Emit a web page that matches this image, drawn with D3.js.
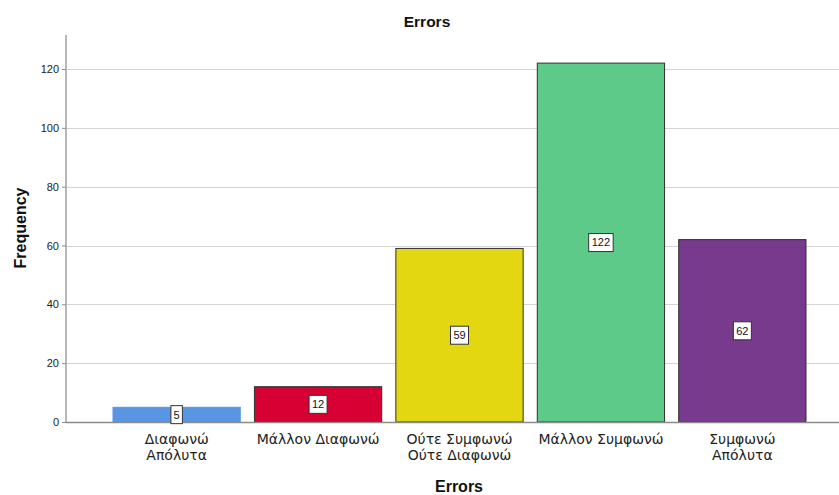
<!DOCTYPE html>
<html>
<head>
<meta charset="utf-8">
<script src="https://cdn.jsdelivr.net/npm/d3@7"></script>
<style>
  html, body { margin: 0; padding: 0; background: #fff; }
  svg { display: block; font-family: "Liberation Sans", Arial, sans-serif; }
</style>
</head>
<body>
<svg id="chart" width="839" height="495"></svg>
<script>
// Response categories (two-line labels) and their counts
const categories = ["Διαφωνώ Απόλυτα", "Μάλλον Διαφωνώ", "Ούτε Συμφωνώ Ούτε Διαφωνώ", "Μάλλον Συμφωνώ", "Συμφωνώ Απόλυτα"];
const categoryLines = [["Διαφωνώ", "Απόλυτα"], ["Μάλλον Διαφωνώ"], ["Ούτε Συμφωνώ", "Ούτε Διαφωνώ"], ["Μάλλον Συμφωνώ"], ["Συμφωνώ", "Απόλυτα"]];
const frequencies = [5, 12, 59, 122, 62];
const barColors = ["#5896e4", "#d70033", "#e2d710", "#5dca89", "#773a8c"];
const yTicks = [0, 20, 40, 60, 80, 100, 120];

const svg = d3.select("#chart");
const plot = { left: 66, right: 839, top: 35, bottom: 422 };

const x = d3.scaleBand()
  .domain(categories)
  .range([113, 806])
  .paddingInner(0.1)
  .paddingOuter(0);

const y = d3.scaleLinear()
  .domain([0, 120])
  .range([plot.bottom, 69]);

// Horizontal gridlines
svg.append("g")
  .selectAll("line")
  .data(yTicks.filter(d => d > 0))
  .join("line")
  .attr("x1", plot.left)
  .attr("x2", plot.right)
  .attr("y1", d => Math.round(y(d)) + 0.5)
  .attr("y2", d => Math.round(y(d)) + 0.5)
  .attr("stroke", "#d4d4d4")
  .attr("stroke-width", 1);

// Y axis
const yAxis = svg.append("g")
  .attr("transform", `translate(${plot.left},0)`)
  .call(d3.axisLeft(y).tickValues(yTicks).tickSize(4).tickPadding(3));
yAxis.select(".domain").remove();
yAxis.selectAll(".tick line").attr("stroke", "#8a8a8a");
yAxis.selectAll("text").attr("font-size", 11).attr("fill", "#222");
svg.append("line")
  .attr("x1", plot.left).attr("x2", plot.left)
  .attr("y1", plot.top).attr("y2", plot.bottom)
  .attr("stroke", "#a0a0a0").attr("stroke-width", 1.5);

// Bars
svg.append("g")
  .selectAll("rect")
  .data(frequencies)
  .join("rect")
  .attr("x", (d, i) => x(categories[i]))
  .attr("y", d => y(d))
  .attr("width", x.bandwidth())
  .attr("height", d => y(0) - y(d))
  .attr("fill", (d, i) => barColors[i])
  .attr("stroke", (d, i) => i === 0 ? barColors[i] : "#2f2f2f")
  .attr("stroke-width", 1);

// X axis baseline
svg.append("line")
  .attr("x1", plot.left).attr("x2", plot.right)
  .attr("y1", plot.bottom + 0.5).attr("y2", plot.bottom + 0.5)
  .attr("stroke", "#8a8a8a").attr("stroke-width", 1.5);

// Value labels in boxed callouts at bar mid-height
const labels = svg.append("g")
  .selectAll("g")
  .data(frequencies)
  .join("g")
  .attr("transform", (d, i) => `translate(${x(categories[i]) + x.bandwidth() / 2},${y(d / 2)})`);
labels.each(function (d) {
  const g = d3.select(this);
  const txt = String(d);
  const w = 6.5 * txt.length + 5;
  g.append("rect")
    .attr("x", -w / 2).attr("y", -9)
    .attr("width", w).attr("height", 18)
    .attr("fill", "#fff").attr("stroke", "#333").attr("stroke-width", 1);
  g.append("text")
    .attr("text-anchor", "middle")
    .attr("dy", "0.35em")
    .attr("font-size", 11)
    .attr("fill", "#111")
    .text(txt);
});

// Category labels
svg.append("g")
  .selectAll("text")
  .data(categoryLines)
  .join("text")
  .attr("text-anchor", "middle")
  .attr("font-family", "'DejaVu Sans', sans-serif")
  .attr("font-size", 14)
  .attr("fill", "#222")
  .attr("transform", (d, i) => `translate(${x(categories[i]) + x.bandwidth() / 2},444)`)
  .selectAll("tspan")
  .data(d => d)
  .join("tspan")
  .attr("x", 0)
  .attr("dy", (d, j) => j === 0 ? 0 : 16)
  .text(d => d);

// Titles
svg.append("text")
  .attr("x", 427).attr("y", 27)
  .attr("text-anchor", "middle")
  .attr("font-size", 15.5).attr("font-weight", "bold").attr("fill", "#111")
  .text("Errors");

svg.append("text")
  .attr("x", 459).attr("y", 492)
  .attr("text-anchor", "middle")
  .attr("font-size", 16).attr("font-weight", "bold").attr("fill", "#111")
  .text("Errors");

svg.append("text")
  .attr("transform", "translate(26,228) rotate(-90)")
  .attr("text-anchor", "middle")
  .attr("font-size", 16).attr("font-weight", "bold").attr("fill", "#111")
  .text("Frequency");
</script>
</body>
</html>
